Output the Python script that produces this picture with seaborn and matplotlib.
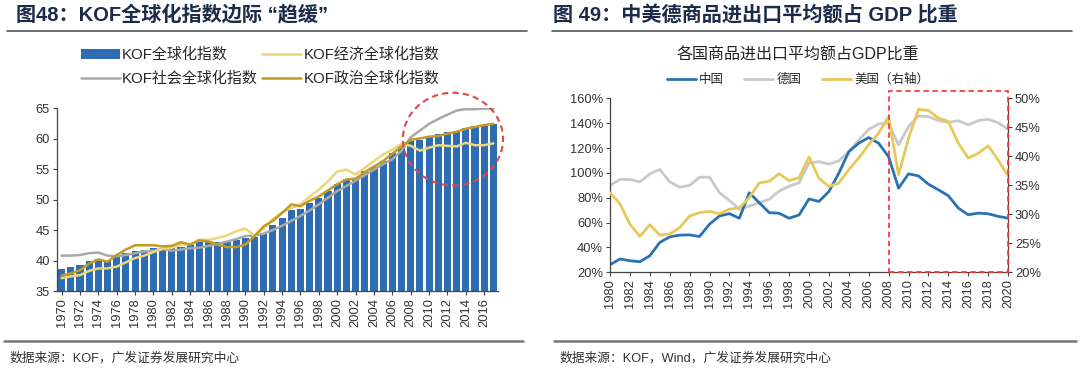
import numpy as np
import pandas as pd
import matplotlib
matplotlib.use("Agg")
import matplotlib.pyplot as plt
import seaborn as sns
from matplotlib.patches import Ellipse, Rectangle, Patch
from matplotlib.lines import Line2D

# ---------------- data: left chart ----------------
kof_years = list(range(1970, 2018))
kof_overall = [38.6, 39.0, 39.2, 40.0, 40.3, 40.0, 40.8, 41.2, 41.6, 41.8,
               42.0, 41.9, 42.0, 42.2, 42.6, 43.0, 43.2, 43.0, 43.0, 43.3,
               43.7, 43.8, 44.5, 45.9, 47.0, 48.3, 48.4, 49.4, 50.3, 51.4,
               52.5, 53.3, 53.4, 54.7, 55.4, 56.3, 57.7, 58.8, 59.6, 59.7,
               60.2, 60.7, 61.0, 61.2, 61.8, 62.0, 62.0, 62.3]
kof_economic = [37.1, 37.4, 37.6, 38.3, 38.7, 38.7, 39.0, 39.7, 40.4, 40.8,
                41.4, 41.9, 42.1, 42.6, 42.7, 43.4, 43.4, 43.7, 44.1, 44.8,
                45.2, 44.1, 45.3, 46.8, 47.9, 48.6, 49.2, 50.5, 51.6, 53.0,
                54.6, 54.9, 54.1, 55.2, 56.3, 57.4, 58.2, 59.1, 58.8, 58.0,
                58.5, 58.9, 58.8, 58.7, 59.3, 58.9, 58.9, 59.2]
kof_social = [40.8, 40.8, 40.9, 41.2, 41.3, 40.8, 40.7, 40.9, 41.2, 41.5,
              41.6, 41.9, 41.6, 41.8, 42.0, 42.1, 42.4, 42.7, 43.1, 43.5,
              44.0, 44.1, 44.4, 45.0, 45.7, 46.5, 47.3, 48.2, 49.2, 50.3,
              51.4, 52.2, 53.1, 54.0, 54.9, 55.8, 56.6, 58.0, 60.2, 61.3,
              62.4, 63.2, 63.9, 64.6, 64.8, 64.8, 64.9, 64.9]
kof_political = [37.5, 37.9, 38.4, 39.5, 40.2, 39.8, 40.9, 41.8, 42.5, 42.5,
                 42.5, 42.3, 42.4, 43.0, 42.6, 43.3, 43.1, 42.6, 42.2, 42.2,
                 42.6, 44.0, 45.6, 46.5, 47.8, 49.2, 48.9, 49.8, 50.5, 51.5,
                 52.5, 53.3, 53.4, 54.5, 55.4, 56.3, 57.5, 58.7, 59.8, 60.0,
                 60.3, 60.4, 60.8, 61.1, 61.6, 61.9, 62.2, 62.4]
kof_yticks = [35, 40, 45, 50, 55, 60, 65]

# ---------------- data: right chart ----------------
trade_years = list(range(1980, 2021))
china = [26.1, 30.7, 29.3, 28.5, 33.3, 44.0, 48.5, 49.9, 50.1, 48.8,
         58.7, 65.3, 67.2, 63.5, 84.0, 76.0, 68.0, 67.5, 63.5, 66.1,
         79.0, 77.0, 85.0, 99.8, 117.0, 123.9, 128.4, 123.9, 113.0, 87.7,
         99.2, 97.6, 90.9, 86.4, 81.6, 71.7, 66.3, 67.6, 67.1, 65.0, 63.6]
germany = [89.9, 94.7, 94.7, 92.8, 99.2, 102.7, 92.8, 88.5, 89.9, 96.5,
           96.5, 84.0, 77.9, 70.7, 73.3, 76.0, 78.7, 85.3, 89.3, 92.0,
           108.0, 109.0, 107.0, 109.7, 117.0, 126.5, 135.0, 139.4, 139.9, 122.5,
           137.2, 145.8, 145.3, 142.0, 140.7, 142.0, 138.6, 142.0, 143.1, 140.4, 135.0]
usa = [33.7, 31.8, 28.3, 26.2, 28.2, 26.4, 26.6, 27.7, 29.7, 30.3,
       30.5, 30.1, 30.9, 31.1, 32.9, 35.4, 35.7, 37.0, 35.8, 36.3,
       39.9, 36.2, 34.8, 35.4, 37.7, 39.7, 42.0, 44.0, 46.8, 36.8,
       43.1, 48.1, 47.9, 46.6, 46.0, 42.3, 39.7, 40.5, 41.8, 39.4, 36.6]
left_ticks = [20, 40, 60, 80, 100, 120, 140, 160]
right_ticks = [20, 25, 30, 35, 40, 45, 50]

# ---------------- style ----------------
sns.set_theme(style="white")
plt.rcParams['font.family'] = ['Liberation Sans', 'Noto Sans CJK SC', 'DejaVu Sans']
plt.rcParams['axes.unicode_minus'] = False

BAR_BLUE = '#2E6DB4'
GOLD = '#C39A22'
LIGHT_Y = '#EDD57A'
GRAY_L = '#A9A9A9'
C_BLUE = '#2B72B3'
C_GRAY = '#C9C9C9'
C_YEL = '#E8C85A'
RED = '#E0474C'
NAVY = '#1C2B49'
TXT = '#333333'
TICK_FS = 9.3

fig = plt.figure(figsize=(10.8, 3.82), dpi=100)

# ---------------- left chart ----------------
axL = fig.add_axes([57/1080, 1-291/382, (498-57)/1080, (291-108)/382])
df_k = pd.DataFrame({'year': kof_years, 'overall': kof_overall,
                     'economic': kof_economic, 'social': kof_social,
                     'political': kof_political})
sns.barplot(data=df_k, x='year', y='overall', native_scale=True, color=BAR_BLUE,
            saturation=1, width=0.78, ax=axL, edgecolor='none')
sns.lineplot(data=df_k, x='year', y='social', color=GRAY_L, lw=1.8, ax=axL)
sns.lineplot(data=df_k, x='year', y='economic', color=LIGHT_Y, lw=1.8, ax=axL)
sns.lineplot(data=df_k, x='year', y='political', color=GOLD, lw=1.8, ax=axL)
axL.set_ylim(35, 65)
axL.set_xlim(1969.5, 2017.5)
axL.set_yticks(kof_yticks)
axL.set_xticks(kof_years[::2])
axL.set_xticklabels([str(y) for y in kof_years[::2]], rotation=90, fontsize=TICK_FS, color=TXT)
axL.tick_params(axis='y', labelsize=TICK_FS, labelcolor=TXT, length=3, width=0.8, color='#444', left=True, pad=2)
axL.tick_params(axis='x', length=3, width=0.8, color='#444', bottom=True, pad=2)
axL.set_xlabel('')
axL.set_ylabel('')
for s in ['top', 'right']:
    axL.spines[s].set_visible(False)
for s in ['left', 'bottom']:
    axL.spines[s].set_color('#444')
    axL.spines[s].set_linewidth(0.9)
ell = Ellipse((2012.6, 59.9), width=10.9, height=15.2, fill=False, edgecolor=RED,
              linestyle=(0, (3, 2)), lw=1.5, clip_on=False, zorder=10)
axL.add_patch(ell)

hL = [Patch(facecolor=BAR_BLUE, edgecolor='none'),
      Line2D([], [], color=GRAY_L, lw=1.8),
      Line2D([], [], color=LIGHT_Y, lw=1.8),
      Line2D([], [], color=GOLD, lw=1.8)]
lL = ['KOF全球化指数', 'KOF社会全球化指数', 'KOF经济全球化指数', 'KOF政治全球化指数']
fig.legend(hL, lL, ncol=2, loc='center', bbox_to_anchor=(260/1080, 1-67/382),
           frameon=False, handlelength=2.6, handletextpad=0.15,
           columnspacing=0.3, labelspacing=0.62, prop={'size': 10.8})

# ---------------- right chart ----------------
axR = fig.add_axes([610/1080, 1-272.3/382, (1008-610)/1080, (272.3-98.3)/382])
df_t = pd.DataFrame({'year': trade_years, 'china': china, 'germany': germany, 'usa': usa})
sns.lineplot(data=df_t, x='year', y='germany', color=C_GRAY, lw=2.0, ax=axR)
sns.lineplot(data=df_t, x='year', y='china', color=C_BLUE, lw=2.0, ax=axR)
axR.set_xlim(1980, 2020)
axR.set_ylim(20, 160)
axR.set_yticks(left_ticks)
axR.set_yticklabels([f'{v}%' for v in left_ticks])
axR.set_xticks(trade_years[::2])
axR.set_xticklabels([str(y) for y in trade_years[::2]], rotation=90, fontsize=TICK_FS, color=TXT)
axR.tick_params(axis='y', labelsize=TICK_FS, labelcolor=TXT, length=3, width=0.8, color='#444', left=True, pad=2)
axR.tick_params(axis='x', length=3, width=0.8, color='#444', bottom=True, pad=2)
axR.set_xlabel('')
axR.set_ylabel('')
axR2 = axR.twinx()
sns.lineplot(data=df_t, x='year', y='usa', color=C_YEL, lw=2.0, ax=axR2)
axR2.set_ylim(20, 50)
axR2.set_yticks(right_ticks)
axR2.set_yticklabels([f'{v}%' for v in right_ticks])
axR2.tick_params(axis='y', labelsize=TICK_FS, labelcolor=TXT, length=3, width=0.8, color='#444', right=True, pad=2)
axR2.set_ylabel('')
axR2.set_xlim(1980, 2020)
for ax in (axR, axR2):
    ax.spines['top'].set_visible(False)
    for s in ['left', 'bottom', 'right']:
        ax.spines[s].set_color('#444')
        ax.spines[s].set_linewidth(0.9)
axR.spines['right'].set_visible(False)
axR2.spines['left'].set_visible(False)
axR2.spines['bottom'].set_visible(False)
rect = Rectangle((2008, 20), 12, 145.6, fill=False, edgecolor='#FF3B3B',
                 linestyle=(0, (3, 2)), lw=1.3, clip_on=False, zorder=10,
                 transform=axR.transData)
axR2.add_patch(rect)

fig.text(798/1080, 1-55/382, '各国商品进出口平均额占GDP比重', ha='center', va='center',
         fontsize=11.5, color='#222')
hR = [Line2D([], [], color=C_BLUE, lw=2), Line2D([], [], color=C_GRAY, lw=2),
      Line2D([], [], color=C_YEL, lw=2)]
fig.legend(hR, ['中国', '德国', '美国（右轴）'], ncol=3, loc='center',
           bbox_to_anchor=(798/1080, 1-80/382), frameon=False, fontsize=9,
           handlelength=2.3, handletextpad=0.3, columnspacing=1.6)

# ---------------- titles, rules, sources ----------------
fig.text(16/1080, 1-15/382, '图48：KOF全球化指数边际 “趋缓”', ha='left', va='center',
         fontsize=14.5, fontweight='bold', color=NAVY,
         family=['Liberation Sans', 'Noto Sans CJK SC'])
fig.text(553/1080, 1-15/382, '图 49：中美德商品进出口平均额占 GDP 比重', ha='left', va='center',
         fontsize=14.5, fontweight='bold', color=NAVY,
         family=['Liberation Sans', 'Noto Sans CJK SC'])
fig.add_artist(Line2D([7/1080, 527/1080], [1-31/382, 1-31/382], color='#555', lw=1.2))
fig.add_artist(Line2D([552/1080, 1072/1080], [1-31/382, 1-31/382], color='#555', lw=1.2))
fig.add_artist(Line2D([4/1080, 523/1080], [1-341/382, 1-341/382], color='#777', lw=1.8))
fig.add_artist(Line2D([554/1080, 1076/1080], [1-341/382, 1-341/382], color='#777', lw=1.8))
fig.text(10/1080, 1-358/382, '数据来源：KOF，广发证券发展研究中心', ha='left', va='center',
         fontsize=9.2, color='#333')
fig.text(560/1080, 1-358/382, '数据来源：KOF，Wind，广发证券发展研究中心', ha='left', va='center',
         fontsize=9.2, color='#333')

fig.savefig('out.png', dpi=100)
